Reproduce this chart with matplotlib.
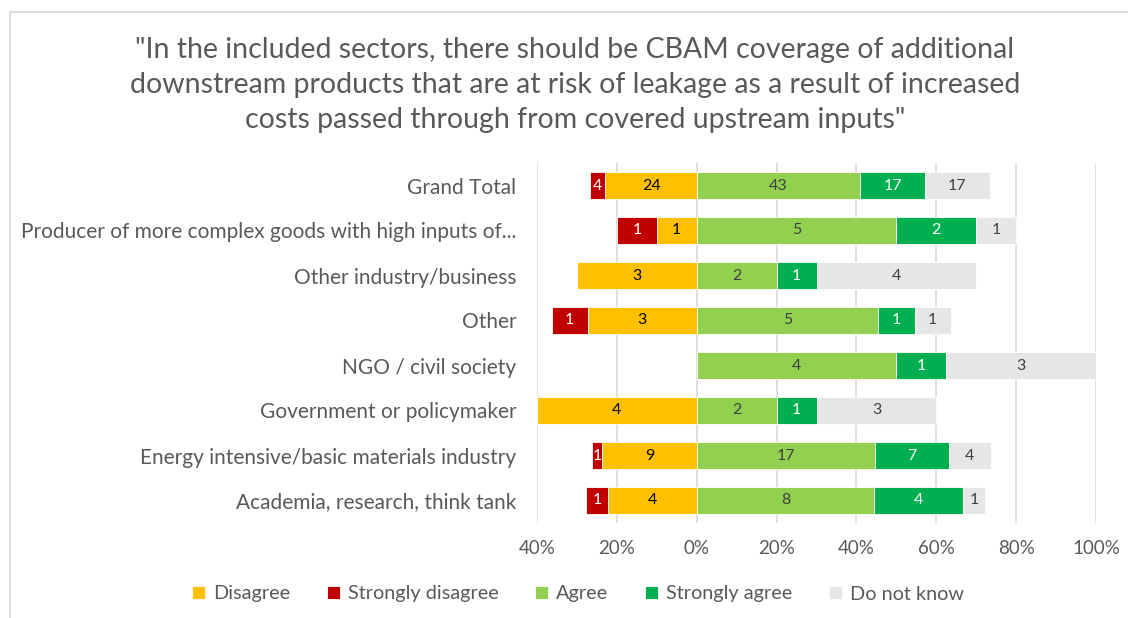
import matplotlib
matplotlib.use("Agg")
import matplotlib.pyplot as plt
import numpy as np
from matplotlib.patches import Rectangle
from matplotlib.ticker import FuncFormatter, MultipleLocator

plt.rcParams['font.family'] = ['Lato', 'DejaVu Sans']

categories = [
    "Grand Total",
    "Producer of more complex goods with high inputs of...",
    "Other industry/business",
    "Other",
    "NGO / civil society",
    "Government or policymaker",
    "Energy intensive/basic materials industry",
    "Academia, research, think tank",
]
disagree = [24, 1, 3, 3, 0, 4, 9, 4]
strongly_disagree = [4, 1, 0, 1, 0, 0, 1, 1]
agree = [43, 5, 2, 5, 4, 2, 17, 8]
strongly_agree = [17, 2, 1, 1, 1, 1, 7, 4]
do_not_know = [17, 1, 4, 1, 3, 3, 4, 1]

title = ('"In the included sectors, there should be CBAM coverage of additional\n'
         'downstream products that are at risk of leakage as a result of increased\n'
         'costs passed through from covered upstream inputs"')

c_dis = "#FFC000"
c_sdis = "#C00000"
c_agr = "#92D050"
c_sagr = "#00B050"
c_dnk = "#E7E6E6"
grey_txt = "#595959"

d = np.array(disagree, float)
sd = np.array(strongly_disagree, float)
a = np.array(agree, float)
sa = np.array(strongly_agree, float)
dk = np.array(do_not_know, float)
total = d + sd + a + sa + dk
p_d, p_sd, p_a, p_sa, p_dk = [100 * v / total for v in (d, sd, a, sa, dk)]

fig = plt.figure(figsize=(11.28, 6.18), dpi=100)
fig.patches.append(Rectangle((10 / 1128, -0.1), 1.2, 1 - 12 / 618 + 0.1,
                             transform=fig.transFigure, fill=False,
                             edgecolor="#D9D9D9", linewidth=1.2, zorder=0))

ax = fig.add_axes([537 / 1128, 1 - 523 / 618, 559 / 1128, 360 / 618])
y = np.arange(len(categories))[::-1]
h = 0.62
ekw = dict(height=h, edgecolor="white", linewidth=0.6, zorder=3)

segments = [
    (-p_d, np.zeros_like(p_d), c_dis, "Disagree", d, "black"),
    (-p_sd, -p_d, c_sdis, "Strongly disagree", sd, "white"),
    (p_a, np.zeros_like(p_a), c_agr, "Agree", a, "#404040"),
    (p_sa, p_a, c_sagr, "Strongly agree", sa, "white"),
    (p_dk, p_a + p_sa, c_dnk, "Do not know", dk, "#404040"),
]
handles = []
for width, left, col, lab, counts, tcol in segments:
    bars = ax.barh(y, width, left=left, color=col, label=lab, **ekw)
    handles.append(bars)
    for yi, w, l, n in zip(y, width, left, counts):
        if n > 0:
            ax.text(l + w / 2, yi, f"{int(n)}", ha="center", va="center",
                    fontsize=11.5, color=tcol, zorder=4)

ax.set_xlim(-40, 100)
ax.set_ylim(-0.5, len(categories) - 0.5)
ax.xaxis.set_major_locator(MultipleLocator(20))
ax.xaxis.set_major_formatter(FuncFormatter(lambda v, _: f"{abs(v):.0f}%"))
ax.set_yticks(y)
ax.set_yticklabels(categories)
ax.tick_params(axis="both", length=0, colors=grey_txt)
ax.tick_params(axis="y", pad=15, labelsize=15)
ax.tick_params(axis="x", pad=12, labelsize=13.5)
ax.grid(axis="x", color="#D9D9D9", linewidth=1.2, zorder=0)
ax.set_axisbelow(True)
for s in ax.spines.values():
    s.set_visible(False)

fig.text(575 / 1128, 1 - 85 / 618, title, ha="center", va="center",
         fontsize=20.5, color=grey_txt, linespacing=1.42)

fig.legend(handles=handles, loc="center", bbox_to_anchor=(578 / 1128, 1 - 594 / 618),
           ncol=5, frameon=False, fontsize=14.3, labelcolor=grey_txt,
           handlelength=0.65, handleheight=0.65, handletextpad=0.4, columnspacing=1.85)

fig.savefig("out.png", dpi=100)
